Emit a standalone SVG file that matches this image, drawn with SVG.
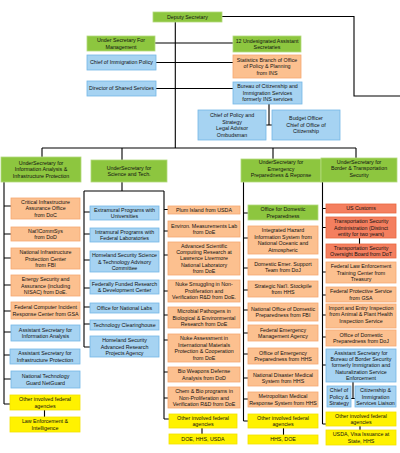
<svg xmlns="http://www.w3.org/2000/svg" width="400" height="453" viewBox="0 0 400 453">
<style>
rect{stroke-width:0.8}
.g{fill:#8dc63f;stroke:#b3da7e}
.b{fill:#a6d3f2;stroke:#74b7e6}
.o{fill:#fcc08f;stroke:#f6a870}
.r{fill:#f47f5f;stroke:#e8663f}
.y{fill:#fff200;stroke:#f2e200}
text{font-family:"Liberation Sans",Arial,sans-serif;font-size:5.3px;fill:#111;text-anchor:middle}
.c path{stroke:#000;stroke-width:1.1;fill:none}
</style>
<rect width="400" height="453" fill="#fff"/>
<g class="c" id="connectors">
<path d="M175.3,22V148M222,16.5H354V96H400M155,43H233M156,62.5H233M156,88.5H233M269,104V125M266,125H272"/>
<path d="M42,148H356M42,148V157M122,148V160M273,148V159M356,148V158"/>
<path d="M4,182V404M4,206H11M4,234H11M4,258H11M4,285H11M4,311H11M4,332H11M4,355H10M4,379H11M4,404H10M44.5,410V417"/>
<path d="M122,182V191M84,191H164M84,191V347M164,191V419M84,212H90M84,234H90M84,260H90M84,288H90M84,307H90M84,324H90M84,347H90"/>
<path d="M164,209.5H168M164,231H168M164,255H168M164,291H168M164,315H168M164,340H168M164,372H168M164,398H168M164,419H169M202,428V434"/>
<path d="M243.5,182V421M243.5,213H248M243.5,238H248M243.5,268H248M243.5,290H248M243.5,310H248M243.5,333H248M243.5,354H248M243.5,378H248M243.5,399H248M243.5,421H248M283.5,428V435"/>
<path d="M322.5,182V424M322.5,208.5H326M322.5,227.5H326M322.5,272H326M322.5,295H326M322.5,315H326M322.5,337H326M322.5,365H326M322.5,424H326M359.5,238V244M353,382V398.5M351,398.5H355M360,426V430"/>
</g>
<g id="deputy"><rect class="g" x="153" y="12" width="69" height="10"/><text x="187.5" y="18.9">Deputy Secretary</text></g>
<g id="usm"><rect class="g" x="87" y="36" width="68" height="15"/><text x="121" y="42.15">Under Secretary For</text><text x="121" y="48.65">Management</text></g>
<g id="uas"><rect class="g" x="233" y="36" width="68" height="16"/><text x="267" y="42.65">12 Undesignated Assistant</text><text x="267" y="49.15">Secretaries</text></g>
<g id="cip"><rect class="b" x="87" y="55" width="69" height="15"/><text x="121.5" y="64.4">Chief of Immigration Policy</text></g>
<g id="stat"><rect class="o" x="233" y="55" width="68" height="23"/><text x="267" y="61.9">Statistics Branch of Office</text><text x="267" y="68.4">of Policy &amp; Planning</text><text x="267" y="74.9">from INS</text></g>
<g id="dss"><rect class="b" x="87" y="81" width="69" height="15"/><text x="121.5" y="90.4">Director of Shared Services</text></g>
<g id="bcis"><rect class="b" x="233" y="82" width="69" height="22"/><text x="267.5" y="88.4">Bureau of Citizenship and</text><text x="267.5" y="94.9">Immigration Services</text><text x="267.5" y="101.4">formerly INS services</text></g>
<g id="cps"><rect class="b" x="198" y="110" width="68" height="30"/><text x="232" y="117.15">Chief of Policy and</text><text x="232" y="123.65">Strategy</text><text x="232" y="130.15">Legal Advisor</text><text x="232" y="136.65">Ombudsman</text></g>
<g id="bo"><rect class="b" x="272" y="110" width="68" height="30"/><text x="306" y="120.4">Budget Officer</text><text x="306" y="126.9">Chief of Office of</text><text x="306" y="133.4">Citizenship</text></g>

<g id="us-iaip"><rect class="g" x="1" y="157" width="80" height="25"/><text x="41" y="164.9">UnderSecretary for</text><text x="41" y="171.4">Information Analysis &amp;</text><text x="41" y="177.9">Infrastructure Protection</text></g>
<g id="ciao"><rect class="o" x="11" y="198" width="69" height="21"/><text x="45.5" y="203.9">Critical Infrastructure</text><text x="45.5" y="210.4">Assurance Office</text><text x="45.5" y="216.9">from DoC</text></g>
<g id="ncs"><rect class="o" x="11" y="227" width="69" height="14"/><text x="45.5" y="232.65">Nat'lCommSys</text><text x="45.5" y="239.15">from DoD</text></g>
<g id="nipc"><rect class="o" x="11" y="248" width="69" height="21"/><text x="45.5" y="254.4">National Infrastructure</text><text x="45.5" y="260.9">Protection Center</text><text x="45.5" y="267.4">from FBI</text></g>
<g id="esa"><rect class="o" x="11" y="275" width="69" height="21"/><text x="45.5" y="281.4">Energy Security and</text><text x="45.5" y="287.9">Assurance (including</text><text x="45.5" y="294.4">NISAC) from DoE.</text></g>
<g id="fcirc"><rect class="o" x="11" y="302" width="69" height="17"/><text x="45.5" y="309.15">Federal Computer Incident</text><text x="45.5" y="315.65">Response Center from GSA</text></g>
<g id="asia"><rect class="b" x="11" y="325" width="69" height="16"/><text x="45.5" y="331.65">Assistant Secretary for</text><text x="45.5" y="338.15">Information Analysis</text></g>
<g id="asip"><rect class="b" x="10" y="349" width="70" height="15"/><text x="45" y="355.15">Assistant Secretary for</text><text x="45" y="361.65">Infrastructure Protection</text></g>
<g id="ntg"><rect class="b" x="11" y="371" width="69" height="17"/><text x="45.5" y="378.15">National Technology</text><text x="45.5" y="384.65">Guard NetGuard</text></g>
<g id="oifa1"><rect class="y" x="10" y="395" width="70" height="15"/><text x="45" y="401.15">Other involved federal</text><text x="45" y="407.65">agencies</text></g>
<g id="lei"><rect class="y" x="10" y="417" width="70" height="15"/><text x="45" y="423.15">Law Enforcement &amp;</text><text x="45" y="429.65">Intelligence</text></g>

<g id="us-st"><rect class="g" x="91" y="160" width="76" height="22"/><text x="129" y="169.65">UnderSecretary for</text><text x="129" y="176.15">Science and Tech.</text></g>
<g id="emp"><rect class="b" x="90" y="206" width="69" height="14"/><text x="124.5" y="211.65">Extramural Programs with</text><text x="124.5" y="218.15">Universities</text></g>
<g id="imp"><rect class="b" x="90" y="228" width="69" height="14"/><text x="124.5" y="233.65">Intramural Programs with</text><text x="124.5" y="240.15">Federal Laboratories</text></g>
<g id="hsstac"><rect class="b" x="90" y="251" width="69" height="21"/><text x="124.5" y="257.4">Homeland Security Science</text><text x="124.5" y="263.9">&amp; Technology Advisory</text><text x="124.5" y="270.4">Committee</text></g>
<g id="ffrdc"><rect class="b" x="90" y="280" width="69" height="14"/><text x="124.5" y="285.65">Federally Funded Research</text><text x="124.5" y="292.15">&amp; Development Center</text></g>
<g id="onl"><rect class="b" x="90" y="303" width="69" height="10"/><text x="124.5" y="309.9">Office for National Labs</text></g>
<g id="tc"><rect class="b" x="90" y="320" width="69" height="10"/><text x="124.5" y="326.9">Technology Clearinghouse</text></g>
<g id="hsarpa"><rect class="b" x="90" y="336" width="69" height="21"/><text x="124.5" y="342.4">Homeland Security</text><text x="124.5" y="348.9">Advanced Research</text><text x="124.5" y="355.4">Projects Agency</text></g>

<g id="plum"><rect class="o" x="168" y="206" width="72" height="8"/><text x="204" y="211.9">Plum Island from USDA</text></g>
<g id="eml"><rect class="o" x="168" y="221" width="72" height="16"/><text x="204" y="227.65">Environ. Measurements Lab</text><text x="204" y="234.15">from DoE</text></g>
<g id="ascr"><rect class="o" x="168" y="242" width="72" height="33"/><text x="204" y="247.8">Advanced Scientific</text><text x="204" y="254.1">Computing Research at</text><text x="204" y="260.4">Lawrence Livermore</text><text x="204" y="266.7">National Laboratory</text><text x="204" y="273">from DoE</text></g>
<g id="nsnp"><rect class="o" x="168" y="280" width="72" height="22"/><text x="204" y="286.4">Nuke Smuggling in Non-</text><text x="204" y="292.9">Proliferation and</text><text x="204" y="299.4">Verification R&amp;D from DoE.</text></g>
<g id="mp"><rect class="o" x="168" y="307" width="72" height="21"/><text x="204" y="313.4">Microbial Pathogens in</text><text x="204" y="319.9">Biological &amp; Environmental</text><text x="204" y="326.4">Research from DoE</text></g>
<g id="na"><rect class="o" x="168" y="334" width="72" height="28"/><text x="204" y="340.15">Nuke Assessment in</text><text x="204" y="346.65">International Materials</text><text x="204" y="353.15">Protection &amp; Cooperation</text><text x="204" y="359.65">from DoE</text></g>
<g id="bwda"><rect class="o" x="168" y="367" width="72" height="15"/><text x="204" y="373.15">Bio Weapons Defense</text><text x="204" y="379.65">Analysis from DoD</text></g>
<g id="cbp"><rect class="o" x="168" y="387" width="72" height="21"/><text x="204" y="393.4">Chem &amp; Bio programs in</text><text x="204" y="399.9">Non-Proliferation and</text><text x="204" y="406.4">Verification R&amp;D from DoE</text></g>
<g id="oifa3"><rect class="y" x="169" y="414" width="68" height="14"/><text x="203" y="419.65">Other involved federal</text><text x="203" y="426.15">agencies</text></g>
<g id="dhu"><rect class="y" x="169" y="434" width="68" height="10"/><text x="203" y="440.9">DOE, HHS, USDA</text></g>

<g id="us-epr"><rect class="g" x="241" y="159" width="80" height="23"/><text x="281" y="164.4">UnderSecretary for</text><text x="281" y="170.9">Emergency</text><text x="281" y="177.4">Preparedness &amp; Reponse</text></g>
<g id="odp"><rect class="g" x="248" y="205" width="70" height="15"/><text x="283" y="211.15">Office for Domestic</text><text x="283" y="217.65">Preparedness</text></g>
<g id="ihis"><rect class="o" x="248" y="226" width="70" height="28"/><text x="283" y="232.15">Integrated Hazard</text><text x="283" y="238.65">Information System from</text><text x="283" y="245.15">National Oceanic and</text><text x="283" y="251.65">Atmospheric</text></g>
<g id="dest"><rect class="o" x="248" y="259" width="70" height="16"/><text x="283" y="265.65">Domestic Emer. Support</text><text x="283" y="272.15">Team from DoJ</text></g>
<g id="sns"><rect class="o" x="248" y="281" width="70" height="16"/><text x="283" y="287.65">Strategic Nat'l. Stockpile</text><text x="283" y="294.15">from HHS</text></g>
<g id="nodp"><rect class="o" x="248" y="303" width="70" height="18"/><text x="283" y="310.65">National Office of Domestic</text><text x="283" y="317.15">Preparedness from FBI</text></g>
<g id="fema"><rect class="o" x="248" y="325" width="70" height="16"/><text x="283" y="331.65">Federal Emergency</text><text x="283" y="338.15">Management Agency</text></g>
<g id="oep"><rect class="o" x="248" y="348" width="70" height="16"/><text x="283" y="354.65">Office of Emergency</text><text x="283" y="361.15">Preparedness from HHS</text></g>
<g id="ndms"><rect class="o" x="248" y="370" width="70" height="16"/><text x="283" y="376.65">National Disaster Medical</text><text x="283" y="383.15">System from HHS</text></g>
<g id="mmrs"><rect class="o" x="248" y="392" width="70" height="15"/><text x="283" y="398.15">Metropolitan Medical</text><text x="283" y="404.65">Response System from HHS</text></g>
<g id="oifa4"><rect class="y" x="248" y="414" width="70" height="14"/><text x="283" y="419.65">Other involved federal</text><text x="283" y="426.15">agencies</text></g>
<g id="hd"><rect class="y" x="248" y="435" width="70" height="9"/><text x="283" y="441.4">HHS, DOE</text></g>

<g id="us-bts"><rect class="g" x="321" y="158" width="76" height="24"/><text x="359" y="163.9">UnderSecretary for</text><text x="359" y="170.4">Border &amp; Transportation</text><text x="359" y="176.9">Security</text></g>
<g id="usc"><rect class="r" x="326" y="204" width="70" height="9"/><text x="361" y="210.4">US Customs</text></g>
<g id="tsa"><rect class="r" x="326" y="217" width="70" height="21"/><text x="361" y="223.4">Transportation Security</text><text x="361" y="229.9">Administration (Distinct</text><text x="361" y="236.4">entity for two years)</text></g>
<g id="tsob"><rect class="r" x="326" y="244" width="70" height="14"/><text x="361" y="249.65">Transportation Security</text><text x="361" y="256.15">Oversight Board from DoT</text></g>
<g id="fletc"><rect class="o" x="326" y="262" width="70" height="21"/><text x="361" y="268.4">Federal Law Enforcement</text><text x="361" y="274.9">Training Center from</text><text x="361" y="281.4">Treasury</text></g>
<g id="fps"><rect class="o" x="326" y="287" width="70" height="15"/><text x="361" y="293.15">Federal Protective Service</text><text x="361" y="299.65">from GSA</text></g>
<g id="iei"><rect class="o" x="326" y="304" width="70" height="24"/><text x="361" y="309.9">Import and Entry Inspection</text><text x="361" y="316.4">from Animal &amp; Plant Health</text><text x="361" y="322.9">Inspection Service</text></g>
<g id="odpj"><rect class="o" x="326" y="330" width="70" height="16"/><text x="361" y="336.65">Office of Domestic</text><text x="361" y="343.15">Preparedness from DoJ</text></g>
<g id="asbbs"><rect class="b" x="326" y="349" width="70" height="33"/><text x="361" y="354.8">Assistant Secretary for</text><text x="361" y="361.1">Bureau of Border Security</text><text x="361" y="367.4">formerly Immigration and</text><text x="361" y="373.7">Naturalization Service</text><text x="361" y="380">Enforcement</text></g>
<g id="cps5"><rect class="b" x="327" y="386" width="24" height="21"/><text x="339" y="392.4">Chief of</text><text x="339" y="398.9">Policy &amp;</text><text x="339" y="405.4">Strategy</text></g>
<g id="cisl"><rect class="b" x="355" y="386" width="41" height="21"/><text x="375.5" y="392.4">Citizenship &amp;</text><text x="375.5" y="398.9">Immigration</text><text x="375.5" y="405.4">Services Liaison</text></g>
<g id="oifa5"><rect class="y" x="326" y="412" width="70" height="14"/><text x="361" y="417.65">Other involved federal</text><text x="361" y="424.15">agencies</text></g>
<g id="uvs"><rect class="y" x="326" y="430" width="70" height="15"/><text x="361" y="436.15">USDA, Visa Issuance at</text><text x="361" y="442.65">State, HHS</text></g>
</svg>
